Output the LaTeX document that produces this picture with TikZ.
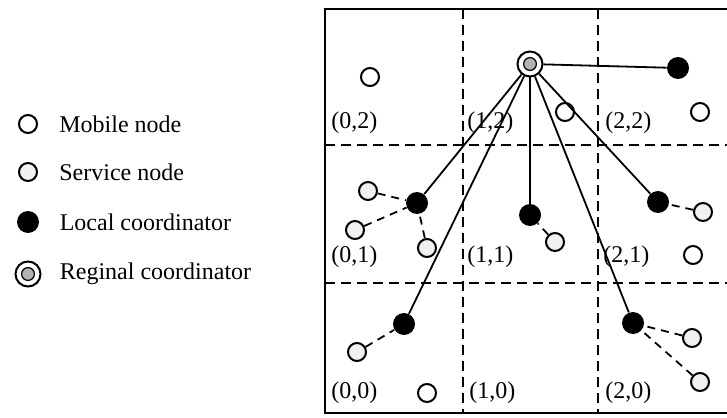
\documentclass[tikz,border=0pt]{standalone}
\usepackage{fontspec}
\setmainfont{Liberation Serif}
\usetikzlibrary{positioning}
\tikzset{mob/.style={circle, draw, line width=1pt, fill=white, minimum size=9pt, inner sep=0pt}, srv/.style={mob, fill=gray!12}, loc/.style={circle, fill=black, minimum size=11pt, inner sep=0pt}, reg/.style={circle, draw, line width=1pt, fill=white, minimum size=12.5pt, inner sep=0pt, path picture={\filldraw[fill=gray!60, draw=black, line width=.6pt] (path picture bounding box.center) circle (3.2pt);}}, link/.style={line width=.9pt}, slink/.style={line width=.9pt, dash pattern=on 4pt off 3pt}, grid/.style={line width=1.1pt, dash pattern=on 5pt off 3pt}, frame/.style={line width=1.4pt}, lab/.style={font=\fontsize{12}{14}\selectfont, inner sep=0pt, anchor=west}}

\begin{document}
\begin{tikzpicture}[x=0.5pt, y=-0.5pt]
\useasboundingbox (0,0) rectangle (727,417);
\draw[frame] (325,9) rectangle (730,413);
\foreach \x in {463,598}{\draw[grid] (\x,9)--(\x,413);} \foreach \y in {145,283}{\draw[grid] (325,\y)--(727,\y);}
\node[lab] (g02) at (331,123) {(0,2)}; \node[lab] (g12) at (467,123) {(1,2)}; \node[lab] (g22) at (605,123) {(2,2)};
\node[lab] (g01) at (331,257) {(0,1)}; \node[lab] (g11) at (467,257) {(1,1)}; \node[lab] (g21) at (603,257) {(2,1)};
\node[lab] (g00) at (331,393) {(0,0)}; \node[lab] (g10) at (469,393) {(1,0)}; \node[lab] (g20) at (605,393) {(2,0)};
\node[mob] (m1) at (370,77) {}; \node[mob] (m2) at (565,112) {}; \node[mob] (m3) at (700,112) {}; \node[mob] (m4) at (693,255) {}; \node[mob] (m5) at (427,393) {};
\node[srv] (s1) at (368,191) {}; \node[srv] (s2) at (355,230) {}; \node[srv] (s3) at (427,248) {}; \node[srv] (s4) at (555,242) {};
\node[srv] (s5) at (703,212) {}; \node[srv] (s6) at (357,352) {}; \node[srv] (s7) at (692,338) {}; \node[srv] (s8) at (700,382) {};
\node[loc] (c22) at (678,68) {}; \node[loc] (c01) at (417,203) {}; \node[loc] (c11) at (530,215) {}; \node[loc] (c21) at (658,202) {}; \node[loc] (c00) at (404,324) {}; \node[loc] (c20) at (633,323) {};
\node[reg] (rc) at (530,64) {};
\foreach \c in {c22,c01,c11,c21,c00,c20}{\draw[link] (rc)--(\c);}
\foreach \s/\c in {s1/c01,s2/c01,s3/c01,s4/c11,s5/c21,s6/c00,s7/c20,s8/c20}{\draw[slink] (\s)--(\c);}
\node[mob] (legmob) at (28,124) {}; \node[lab, right=10.5pt of legmob] (txtmob) {Mobile node};
\node[srv] (legsrv) at (28,172) {}; \node[lab, right=10.5pt of legsrv] (txtsrv) {Service node};
\node[loc] (legloc) at (28,222) {}; \node[lab, right=10pt of legloc] (txtloc) {Local coordinator};
\node[reg] (legreg) at (28,274) {}; \node[lab, right=9pt of legreg] (txtreg) {Reginal coordinator};
\end{tikzpicture}
\end{document}
